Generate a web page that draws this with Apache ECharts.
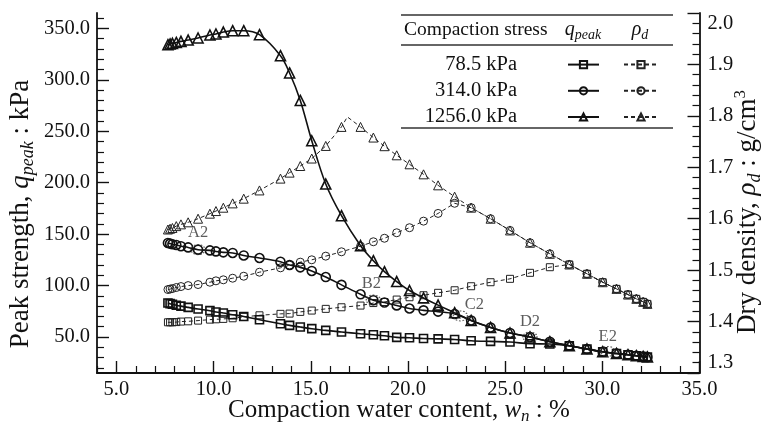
<!DOCTYPE html>
<html>
<head>
<meta charset="utf-8">
<script src="https://cdn.jsdelivr.net/npm/echarts@6/dist/echarts.min.js"></script>
<style>
html, body { margin: 0; padding: 0; background: #fff; }
#chart { width: 762px; height: 432px; }
</style>
</head>
<body>
<div id="chart"></div>
<script>
// Compaction water content of the specimens, w_n (%)
const waterContent = [7.65, 7.76, 7.88, 8.08, 8.32, 8.69, 9.2, 9.81, 10.12, 10.5, 10.98, 11.55, 12.36, 13.44, 13.91,
  14.46, 15.05, 15.77, 16.58, 17.56, 18.22, 18.79, 19.42, 20.08, 20.8, 21.55, 22.4, 23.25, 24.25, 25.25, 26.28,
  27.3, 28.3, 29.21, 30.02, 30.73, 31.32, 31.75, 32.1, 32.32];

// Peak strength q_peak (kPa) per compaction stress
const qPeak785 = [83.1, 82.4, 81.9, 80.9, 80.0, 78.8, 77.2, 75.6, 74.3, 73.3, 71.7, 70.0, 66.8, 62.9, 61.3,
  59.7, 58.1, 56.4, 54.9, 53.2, 52.2, 51.2, 49.6, 49.3, 48.5, 48.2, 47.6, 46.4, 45.7, 45.1, 43.5,
  43.2, 41.5, 38.3, 35.7, 34.0, 32.8, 31.8, 31.1, 30.6];
const qPeak3140 = [141.4, 140.8, 140.2, 139.5, 138.3, 137.1, 134.9, 134.2, 133.2, 132.3, 131.7, 129.3, 126.8, 123.2, 120.0,
  117.7, 114.2, 108.3, 100.7, 91.5, 85.8, 83.5, 80.7, 77.7, 75.9, 74.7, 72.4, 66.1, 59.3, 53.9, 50.0,
  45.4, 41.5, 38.3, 35.7, 34.0, 32.8, 31.8, 31.1, 30.6];
const qPeak12560 = [334.2, 334.9, 335.5, 336.4, 337.4, 338.7, 340.7, 343.6, 344.6, 346.5, 347.8, 347.8, 343.9, 323.5, 306.7,
  280.0, 240.8, 198.7, 167.9, 138.8, 124.2, 113.5, 103.9, 95.2, 88.0, 81.0, 73.6, 66.1, 59.3, 53.9, 50.0,
  45.4, 41.5, 38.3, 35.7, 34.0, 32.8, 31.8, 31.1, 30.6];

// Dry density rho_d (g/cm3) per compaction stress
const rhoD785 = [1.3986, 1.3986, 1.3986, 1.3990, 1.4000, 1.4005, 1.4019, 1.4038, 1.4044, 1.4052, 1.4064, 1.4091, 1.4122, 1.4150, 1.4155,
  1.4188, 1.4214, 1.4247, 1.4278, 1.4311, 1.4360, 1.4380, 1.4428, 1.4473, 1.4512, 1.4559, 1.4609, 1.4687, 1.4765, 1.4831, 1.4948,
  1.5057, 1.5110, 1.4929, 1.4765, 1.4636, 1.4525, 1.4442, 1.4383, 1.4344];
const rhoD3140 = [1.4623, 1.4632, 1.4642, 1.4662, 1.4681, 1.4700, 1.4720, 1.4765, 1.4792, 1.4812, 1.4843, 1.4882, 1.4960, 1.5045, 1.5096,
  1.5155, 1.5201, 1.5272, 1.5357, 1.5466, 1.5552, 1.5620, 1.5727, 1.5825, 1.5953, 1.6103, 1.6300, 1.6215, 1.6000, 1.5772, 1.5533,
  1.5318, 1.5110, 1.4929, 1.4765, 1.4636, 1.4525, 1.4442, 1.4383, 1.4344];
const rhoD12560 = [1.5790, 1.5805, 1.5820, 1.5856, 1.5890, 1.5930, 1.6000, 1.6098, 1.6149, 1.6214, 1.6298, 1.6390, 1.6550, 1.6780, 1.6896,
  1.7025, 1.7170, 1.7415, 1.7785, 1.7785, 1.7578, 1.7410, 1.7233, 1.7058, 1.6863, 1.6649, 1.6429, 1.6215, 1.6000, 1.5772, 1.5533,
  1.5318, 1.5110, 1.4929, 1.4765, 1.4636, 1.4525, 1.4442, 1.4383, 1.4344];
// Maximum dry density at 1256.0 kPa (w_opt, rho_dmax), drawn as the apex of the dashed curve
const rhoPeak12560 = [16.88, 1.798];

// Compaction stresses
const stressLabels = ['78.5 kPa', '314.0 kPa', '1256.0 kPa'];

// Marked states on the q_peak curves: [label, w_n, q_peak]
const markedStates = [['A2', 9.2, 134.9], ['B2', 18.22, 86.0], ['C2', 22.7, 70.5], ['D2', 26.28, 50.0], ['E2', 30.28, 36.0]];

// Axis tick values
const xMajorTicks = [5, 10, 15, 20, 25, 30, 35];
const qMajorTicks = [50, 100, 150, 200, 250, 300, 350];

const FONT = 'Liberation Serif';
const INK = '#111';

const xMinorTicks = [];
for (let v = 4; v <= 35; v++) if (v % 5 !== 0) xMinorTicks.push(v);
const qMinorTicks = [];
for (let v = 20; v <= 360; v += 10) if (v % 50 !== 0) qMinorTicks.push(v);

const pairs = (vals) => waterContent.map((w, i) => [w, vals[i]]);
const rho12560Data = pairs(rhoD12560);
const apexIdx = waterContent.findIndex(w => w > rhoPeak12560[0]);
rho12560Data.splice(apexIdx, 0, { value: rhoPeak12560, symbol: 'none' });

function qSeries(name, vals, symbol, size) {
  return {
    type: 'line', name, data: pairs(vals), xAxisIndex: 0, yAxisIndex: 0,
    smooth: 0.35, symbol, symbolSize: size, showAllSymbol: true,
    lineStyle: { color: INK, width: 1.6 },
    itemStyle: { color: 'transparent', borderColor: INK, borderWidth: 1.6 },
    emphasis: { disabled: true }, z: 4
  };
}
function rhoSeries(name, data, symbol, size) {
  return {
    type: 'line', name, data, xAxisIndex: 0, yAxisIndex: 1,
    smooth: false, symbol, symbolSize: size, showAllSymbol: true,
    lineStyle: { color: '#222', width: 1, type: [4, 3] },
    itemStyle: { color: 'transparent', borderColor: '#222', borderWidth: 1 },
    emphasis: { disabled: true }, z: 3
  };
}

const labelOffsets = { A2: [0, -17], B2: [-2, -16], C2: [14, -11], D2: [0, -15], E2: [0, -15] };

const richMath = (size) => ({
  n: { fontFamily: FONT, fontSize: size, fill: INK, lineHeight: size + 5 },
  i: { fontFamily: FONT, fontSize: size, fontStyle: 'italic', fill: INK, lineHeight: size + 5 },
  s: { fontFamily: FONT, fontSize: Math.round(size * 0.68), fontStyle: 'italic', fill: INK,
       lineHeight: Math.round(size * 0.68), verticalAlign: 'bottom' },
  p: { fontFamily: FONT, fontSize: Math.round(size * 0.62), fill: INK,
       lineHeight: Math.round(size * 0.62), verticalAlign: 'top' }
});

const chart = echarts.init(document.getElementById('chart'), null, { renderer: 'canvas' });

const legendBase = {
  orient: 'vertical', top: 60, itemHeight: 9, itemGap: 17, padding: 0,
  formatter: () => '', selectedMode: false, textStyle: { fontSize: 1 }
};

const option = {
  animation: false,
  backgroundColor: '#fff',
  grid: { left: 97, right: 62.5, top: 13, bottom: 59, containLabel: false, outerBoundsMode: 'none' },
  xAxis: [
    {
      type: 'value', min: 4, max: 35, position: 'bottom',
      axisLine: { show: true, onZero: false, lineStyle: { color: INK, width: 1.8 } },
      axisTick: { show: true, inside: true, length: 12, customValues: xMajorTicks, lineStyle: { color: INK, width: 1.4 } },
      axisLabel: { show: true, customValues: xMajorTicks, formatter: v => v.toFixed(1), margin: 6,
                   fontFamily: FONT, fontSize: 20.5, color: INK },
      splitLine: { show: false }
    },
    {
      type: 'value', min: 4, max: 35, position: 'bottom',
      axisLine: { show: false },
      axisTick: { show: true, inside: true, length: 7, customValues: xMinorTicks, lineStyle: { color: INK, width: 1.2 } },
      axisLabel: { show: false }, splitLine: { show: false }
    }
  ],
  yAxis: [
    {
      type: 'value', min: 15, max: 365, position: 'left',
      axisLine: { show: true, onZero: false, lineStyle: { color: INK, width: 1.8 } },
      axisTick: { show: true, inside: true, length: 12, customValues: qMajorTicks, lineStyle: { color: INK, width: 1.4 } },
      axisLabel: { show: true, customValues: qMajorTicks, formatter: v => v.toFixed(1), margin: 7,
                   fontFamily: FONT, fontSize: 20.5, color: INK },
      splitLine: { show: false }
    },
    {
      type: 'value', min: 1.3, max: 2.0, interval: 0.1, position: 'right',
      axisLine: { show: true, onZero: false, lineStyle: { color: INK, width: 1.8 } },
      axisTick: { show: true, inside: true, length: 12, lineStyle: { color: INK, width: 1.4 } },
      minorTick: { show: true, splitNumber: 5, length: 7, lineStyle: { color: INK, width: 1.2 } },
      axisLabel: { show: true, formatter: v => v.toFixed(1), margin: 8, fontFamily: FONT, fontSize: 20.5, color: INK,
                   showMinLabel: true, showMaxLabel: true,
                   verticalAlignMinLabel: 'bottom', verticalAlignMaxLabel: 'top' },
      splitLine: { show: false }, minorSplitLine: { show: false }
    },
    {
      type: 'value', min: 15, max: 365, position: 'left',
      axisLine: { show: false },
      axisTick: { show: true, inside: true, length: 7, customValues: qMinorTicks, lineStyle: { color: INK, width: 1.2 } },
      axisLabel: { show: false }, splitLine: { show: false }
    }
  ],
  legend: [
    Object.assign({}, legendBase, { left: 567, itemWidth: 31, data: ['q 78.5', 'q 314.0', 'q 1256.0'] }),
    Object.assign({}, legendBase, { left: 623, itemWidth: 34, data: ['rho 78.5', 'rho 314.0', 'rho 1256.0'] })
  ],
  series: [
    rhoSeries('rho 78.5', pairs(rhoD785), 'rect', 7),
    rhoSeries('rho 314.0', pairs(rhoD3140), 'circle', 8),
    rhoSeries('rho 1256.0', rho12560Data, 'triangle', 9),
    qSeries('q 78.5', qPeak785, 'rect', 8),
    qSeries('q 314.0', qPeak3140, 'circle', 9),
    qSeries('q 1256.0', qPeak12560, 'triangle', 10),
    {
      type: 'scatter', name: 'marked states', xAxisIndex: 0, yAxisIndex: 0, silent: true, z: 6,
      symbol: 'circle', symbolSize: [14, 10],
      itemStyle: { color: 'transparent', borderColor: '#333', borderWidth: 1.2, borderType: [1.5, 1.5] },
      label: { show: true, position: 'inside', formatter: '{b}', fontFamily: FONT, fontSize: 16.5, color: '#333' },
      data: markedStates.map(m => ({ name: m[0], value: [m[1], m[2]], label: { offset: labelOffsets[m[0]] } }))
    }
  ],
  graphic: [
    { type: 'line', shape: { x1: 401, y1: 15, x2: 673, y2: 15 }, style: { stroke: '#333', lineWidth: 1.4 } },
    { type: 'line', shape: { x1: 401, y1: 45, x2: 673, y2: 45 }, style: { stroke: '#333', lineWidth: 1.4 } },
    { type: 'line', shape: { x1: 401, y1: 128, x2: 673, y2: 128 }, style: { stroke: '#333', lineWidth: 1.4 } },
    { type: 'text', x: 404, y: 30, style: { text: 'Compaction stress', fontFamily: FONT, fontSize: 19.5, fill: INK,
        align: 'left', verticalAlign: 'middle' } },
    { type: 'text', x: 583, y: 30, style: { text: '{i|q}{s|peak}', rich: richMath(20), align: 'center', verticalAlign: 'middle' } },
    { type: 'text', x: 640, y: 30, style: { text: '{i|ρ}{s|d}', rich: richMath(20), align: 'center', verticalAlign: 'middle' } },
    ...stressLabels.map((t, k) => ({ type: 'text', x: 517, y: [65, 90.5, 116.5][k],
        style: { text: t, fontFamily: FONT, fontSize: 20.5, fill: INK, align: 'right', verticalAlign: 'middle' } })),
    { type: 'text', x: 399, y: 410, style: { text: '{n|Compaction water content, }{i|w}{s|n}{n| : %}', rich: richMath(25),
        align: 'center', verticalAlign: 'middle' } },
    { type: 'text', x: 21, y: 214, rotation: Math.PI / 2, style: { text: '{n|Peak strength, }{i|q}{s|peak}{n| : kPa}',
        rich: richMath(27), align: 'center', verticalAlign: 'middle' } },
    { type: 'text', x: 748, y: 212, rotation: Math.PI / 2, style: { text: '{n|Dry density, }{i|ρ}{s|d}{n| : g/cm}{p|3}',
        rich: richMath(27), align: 'center', verticalAlign: 'middle' } }
  ]
};

chart.setOption(option);
</script>
</body>
</html>
